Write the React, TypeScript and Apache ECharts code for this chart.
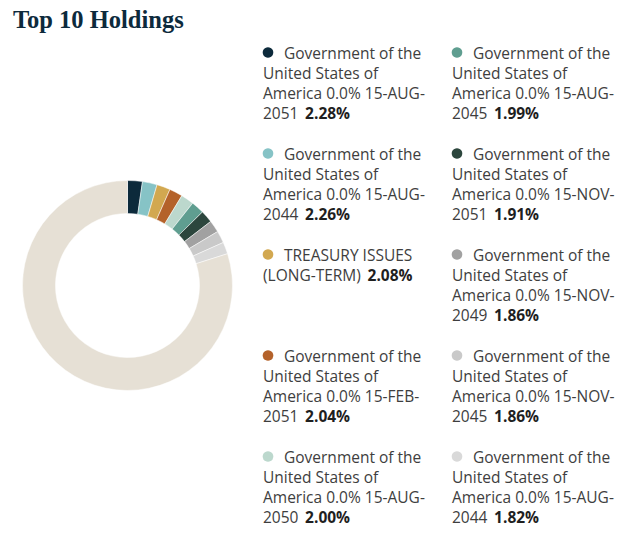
import React, { useEffect, useRef } from "react";
import * as echarts from "echarts";

const titleText = "Top 10 Holdings";
const holdingNames = [
  "Government of the United States of America 0.0% 15-AUG-2051",
  "Government of the United States of America 0.0% 15-AUG-2044",
  "TREASURY ISSUES (LONG-TERM)",
  "Government of the United States of America 0.0% 15-FEB-2051",
  "Government of the United States of America 0.0% 15-AUG-2050",
  "Government of the United States of America 0.0% 15-AUG-2045",
  "Government of the United States of America 0.0% 15-NOV-2051",
  "Government of the United States of America 0.0% 15-NOV-2049",
  "Government of the United States of America 0.0% 15-NOV-2045",
  "Government of the United States of America 0.0% 15-AUG-2044",
];
const holdingValues = [2.28, 2.26, 2.08, 2.04, 2.0, 1.99, 1.91, 1.86, 1.86, 1.82];
const holdingColors = [
  "#0c2a3b",
  "#86c3c6",
  "#d2a850",
  "#b4622a",
  "#bcd8cd",
  "#5f9e90",
  "#2c463d",
  "#a1a1a1",
  "#c9c9c9",
  "#d9d9d9",
];
const otherName = "Other";
const otherValue = 79.9;
const otherColor = "#e6e0d5";

const FONT_FAMILY = "'Open Sans', sans-serif";
const FONT_SIZE = 15.5;

function measure(ctx: CanvasRenderingContext2D, s: string) {
  return ctx.measureText(s).width;
}

function wrapName(name: string, firstWidth: number, restWidth: number): string[] {
  const canvas = document.createElement("canvas");
  const ctx = canvas.getContext("2d")!;
  ctx.font = `${FONT_SIZE}px ${FONT_FAMILY}`;
  const tokens: { t: string; sp: boolean }[] = [];
  name.split(" ").forEach((w) => {
    const parts = w.split(/(?<=-)/);
    parts.forEach((p, i) => tokens.push({ t: p, sp: i === 0 }));
  });
  const lines: string[] = [];
  let cur = "";
  tokens.forEach((tk) => {
    const limit = lines.length === 0 ? firstWidth : restWidth;
    const cand = cur === "" ? tk.t : cur + (tk.sp ? " " : "") + tk.t;
    if (cur !== "" && measure(ctx, cand) > limit) {
      lines.push(cur);
      cur = tk.t;
    } else {
      cur = cand;
    }
  });
  if (cur) lines.push(cur);
  return lines;
}

export default function App() {
  const ref = useRef<HTMLDivElement>(null);
  useEffect(() => {
    if (!ref.current) return;
    const chart = echarts.init(ref.current, undefined, { renderer: "svg" });

    const graphics: any[] = [
      {
        type: "text",
        x: 13,
        y: 19,
        style: {
          text: titleText,
          font: "bold 24.5px 'Liberation Serif', serif",
          fill: "#0d2a3c",
          verticalAlign: "middle",
        },
      },
    ];

    const colX = [263, 452];
    const bulletOffset = 5;
    const textOffset = 21;
    const startY = 52.5;
    const rowStep = 101;
    const lineH = 20;
    const restW = 170;

    holdingNames.forEach((name, i) => {
      const col = Math.floor(i / 5);
      const row = i % 5;
      const x0 = colX[col];
      const y0 = startY + row * rowStep;
      graphics.push({
        type: "circle",
        shape: { cx: x0 + bulletOffset, cy: y0, r: 5.3 },
        style: { fill: holdingColors[i] },
      });
      const lines = wrapName(name, restW - textOffset, restW);
      lines.forEach((ln, li) => {
        const isLast = li === lines.length - 1;
        const pct = holdingValues[i].toFixed(2) + "%";
        graphics.push({
          type: "text",
          x: li === 0 ? x0 + textOffset : x0,
          y: y0 + li * lineH,
          style: isLast
            ? {
                text: `{n|${ln}}  {b|${pct}}`,
                verticalAlign: "middle",
                rich: {
                  n: { font: `${FONT_SIZE}px ${FONT_FAMILY}`, fill: "#3e3e3e" },
                  b: { font: `bold ${FONT_SIZE}px ${FONT_FAMILY}`, fill: "#1f1f1f" },
                },
              }
            : {
                text: ln,
                font: `${FONT_SIZE}px ${FONT_FAMILY}`,
                fill: "#3e3e3e",
                verticalAlign: "middle",
              },
        });
      });
    });

    const data = holdingNames.map((n, i) => ({
      name: n + " " + i,
      value: holdingValues[i],
      itemStyle: { color: holdingColors[i] },
    }));
    data.push({ name: otherName, value: otherValue, itemStyle: { color: otherColor } });

    chart.setOption({
      animation: false,
      graphic: graphics,
      series: [
        {
          type: "pie",
          center: [127.5, 285.5],
          radius: [72, 105],
          startAngle: 90,
          clockwise: true,
          label: { show: false },
          labelLine: { show: false },
          silent: true,
          itemStyle: { borderColor: "#ffffff", borderWidth: 0.5 },
          data,
        },
      ],
    });
    return () => chart.dispose();
  }, []);
  return (
    <div
      ref={ref}
      style={{ position: "fixed", left: 0, top: 0, width: 636, height: 542, background: "#fff" }}
    />
  );
}
